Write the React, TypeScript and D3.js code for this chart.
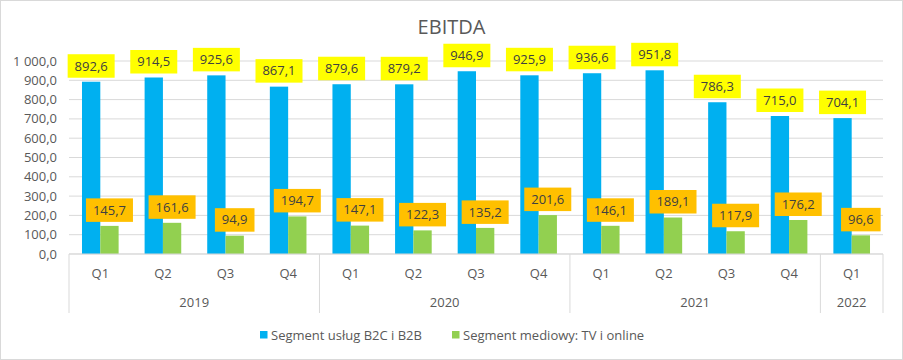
import React from 'react';
import * as d3 from 'd3';

const quarters = ['Q1', 'Q2', 'Q3', 'Q4', 'Q1', 'Q2', 'Q3', 'Q4', 'Q1', 'Q2', 'Q3', 'Q4', 'Q1'];
const years = ['2019', '2020', '2021', '2022'];
const yearSpans = [4, 4, 4, 1];
const seriesNames = ['Segment usług B2C i B2B', 'Segment mediowy: TV i online'];
const b2c = [892.6, 914.5, 925.6, 867.1, 879.6, 879.2, 946.9, 925.9, 936.6, 951.8, 786.3, 715.0, 704.1];
const media = [145.7, 161.6, 94.9, 194.7, 147.1, 122.3, 135.2, 201.6, 146.1, 189.1, 117.9, 176.2, 96.6];
const yTicks = [0, 100, 200, 300, 400, 500, 600, 700, 800, 900, 1000];

const colors = ['#00B0F0', '#92D050'];
const labelFills = ['#FFFF00', '#FFC000'];
const font = '"Open Sans", sans-serif';

const fmt = (v: number) => {
  const s = v.toFixed(1).replace('.', ',');
  const [i, d] = s.split(',');
  return i.replace(/\B(?=(\d{3})+(?!\d))/g, ' ') + ',' + d;
};
const textW = (s: string) =>
  s.split('').reduce((w, c) => w + (c === ',' ? 3.4 : c === ' ' ? 3.4 : 7.4), 0);

const W = 903;
const H = 360;
const left = 69;
const right = 883;
const top = 61;
const bottom = 254;

const App: React.FC = () => {
  const idx = quarters.map((_, i) => i);
  const x = d3.scaleBand<number>().domain(idx).range([left, right]).padding(0);
  const bw = x.bandwidth();
  const inner = d3.scaleBand<number>().domain([0, 1]).range([bw * 0.2075, bw * 0.7925]).padding(0);
  const y = d3.scaleLinear().domain([0, 1000]).range([bottom, top]);
  const series = [b2c, media];

  let acc = 0;
  const yearBounds = yearSpans.map((n) => {
    const s = acc;
    acc += n;
    return [s, acc];
  });

  return (
    <svg width={W} height={H} style={{ position: 'absolute', left: 0, top: 0 }} fontFamily={font}>
      <rect x={0.5} y={0.5} width={W - 1} height={H - 1} fill="#fff" stroke="#d9d9d9" />
      <text x={W / 2} y={34} textAnchor="middle" fontSize={20} fill="#595959">EBITDA</text>

      {yTicks.map((t) => (
        <g key={t}>
          <line x1={left} x2={right} y1={y(t)} y2={y(t)} stroke="#d9d9d9" />
          <text x={57} y={y(t)} dy="0.35em" textAnchor="end" fontSize={13} fill="#595959">{fmt(t)}</text>
        </g>
      ))}

      {series.map((vals, si) =>
        vals.map((v, i) => (
          <rect key={`${si}-${i}`} x={(x(i) ?? 0) + (inner(si) ?? 0)} y={y(v)} width={inner.bandwidth()} height={y(0) - y(v)} fill={colors[si]} />
        ))
      )}

      {series.map((vals, si) =>
        vals.map((v, i) => {
          const s = fmt(v);
          const w = textW(s) + 14;
          const h = 23.5;
          const cx = (x(i) ?? 0) + (inner(si) ?? 0) + inner.bandwidth() / 2;
          const by = y(v) - 4 - h;
          return (
            <g key={`l${si}-${i}`}>
              <rect x={cx - w / 2} y={by} width={w} height={h} fill={labelFills[si]} />
              <text x={cx} y={by + h / 2} dy="0.35em" textAnchor="middle" fontSize={13} fill="#404040">{s}</text>
            </g>
          );
        })
      )}

      <line x1={left} x2={right} y1={bottom} y2={bottom} stroke="#d9d9d9" />
      {quarters.map((q, i) => (
        <text key={i} x={(x(i) ?? 0) + bw / 2} y={273} dy="0.35em" textAnchor="middle" fontSize={13} fill="#595959">{q}</text>
      ))}
      {[0, ...yearBounds.map((b) => b[1])].map((b, i) => (
        <line key={i} x1={b === quarters.length ? right : (x(b) ?? 0)} x2={b === quarters.length ? right : (x(b) ?? 0)} y1={bottom} y2={313} stroke="#d9d9d9" />
      ))}
      {years.map((yr, i) => {
        const [s, e] = yearBounds[i];
        const cx = (left + bw * s + left + bw * e) / 2;
        return (
          <text key={yr} x={cx} y={302.5} dy="0.35em" textAnchor="middle" fontSize={13} fill="#595959">{yr}</text>
        );
      })}

      <g>
        <rect x={260} y={331} width={7.5} height={7.5} fill={colors[0]} />
        <text x={271} y={335} dy="0.35em" fontSize={13} fill="#595959">{seriesNames[0]}</text>
        <rect x={452} y={331} width={7.5} height={7.5} fill={colors[1]} />
        <text x={463} y={335} dy="0.35em" fontSize={13} fill="#595959">{seriesNames[1]}</text>
      </g>
    </svg>
  );
};

export default App;
